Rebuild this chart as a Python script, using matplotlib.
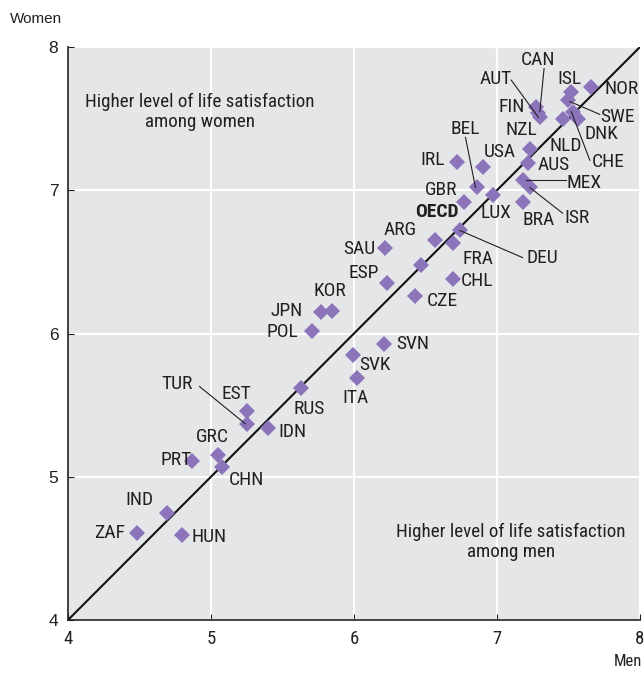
import matplotlib
matplotlib.use("Agg")
import matplotlib.pyplot as plt

plt.rcParams['font.family'] = ['Roboto Condensed', 'Liberation Sans', 'DejaVu Sans']

# Life satisfaction by sex (men on x, women on y)
countries = ['NOR', 'ISL', 'SWE', 'FIN', 'CAN', 'AUT', 'NLD', 'DNK', 'CHE', 'NZL',
             'AUS', 'MEX', 'ISR', 'BRA', 'USA', 'IRL', 'BEL', 'LUX', 'GBR', 'DEU',
             'OECD', 'FRA', 'ARG', 'SAU', 'CHL', 'CZE', 'ESP', 'KOR', 'JPN', 'POL',
             'SVN', 'SVK', 'ITA', 'RUS', 'EST', 'TUR', 'IDN', 'GRC', 'CHN', 'PRT',
             'IND', 'ZAF', 'HUN']
men = [7.66, 7.52, 7.50, 7.27, 7.29, 7.30, 7.46, 7.57, 7.53, 7.23,
       7.22, 7.18, 7.23, 7.18, 6.90, 6.72, 6.86, 6.97, 6.77, 6.74,
       6.57, 6.69, 6.47, 6.22, 6.69, 6.43, 6.23, 5.85, 5.77, 5.71,
       6.21, 5.99, 6.02, 5.63, 5.25, 5.25, 5.40, 5.05, 5.08, 4.87,
       4.69, 4.48, 4.80]
women = [7.72, 7.69, 7.63, 7.58, 7.54, 7.51, 7.50, 7.50, 7.55, 7.29,
         7.19, 7.07, 7.02, 6.92, 7.16, 7.20, 7.02, 6.97, 6.92, 6.72,
         6.65, 6.63, 6.48, 6.60, 6.38, 6.26, 6.35, 6.16, 6.15, 6.02,
         5.93, 5.85, 5.69, 5.62, 5.46, 5.37, 5.34, 5.15, 5.07, 5.11,
         4.75, 4.61, 4.59]

# label positions (text centres)
label_x = [7.87, 7.51, 7.84, 7.10, 7.29, 6.99, 7.48, 7.73, 7.78, 7.17,
           7.40, 7.61, 7.56, 7.29, 7.02, 6.55, 6.78, 6.99, 6.61, 7.32,
           6.58, 6.87, 6.32, 6.04, 6.86, 6.62, 6.07, 5.83, 5.53, 5.50,
           6.41, 6.15, 6.01, 5.69, 5.18, 4.76, 5.57, 5.01, 5.25, 4.755,
           4.50, 4.29, 4.99]
label_y = [7.71, 7.78, 7.51, 7.58, 7.91, 7.78, 7.31, 7.39, 7.20, 7.42,
           7.18, 7.05, 6.81, 6.79, 7.27, 7.21, 7.43, 6.84, 7.00, 6.53,
           6.85, 6.52, 6.72, 6.59, 6.37, 6.23, 6.42, 6.30, 6.16, 6.01,
           5.93, 5.78, 5.55, 5.47, 5.58, 5.65, 5.31, 5.28, 4.98, 5.12,
           4.84, 4.61, 4.58]

# leader lines: country -> ((x0, y0), (x1, y1))
leaders = {
    'AUT': ((7.10, 7.77), (7.29, 7.51)),
    'CAN': ((7.33, 7.85), (7.30, 7.55)),
    'BEL': ((6.78, 7.37), (6.85, 7.02)),
    'SWE': ((7.51, 7.62), (7.72, 7.53)),
    'CHE': ((7.52, 7.55), (7.65, 7.21)),
    'MEX': ((7.20, 7.07), (7.48, 7.07)),
    'ISR': ((7.23, 7.02), (7.46, 6.84)),
    'DEU': ((6.74, 6.72), (7.18, 6.53)),
    'TUR': ((4.92, 5.63), (5.24, 5.37)),
}

fig = plt.figure(figsize=(6.44, 6.73), dpi=100)
ax = fig.add_axes([0.1056, 0.0788, 0.888, 0.8512])
ax.set_facecolor('#e5e6e8')
ax.set_xlim(4, 8)
ax.set_ylim(4, 8)
ax.set_xticks([4, 5, 6, 7, 8])
ax.set_yticks([4, 5, 6, 7, 8])
ax.grid(True, color='white', linewidth=1.5)
ax.set_axisbelow(True)
for s in ['top', 'right']:
    ax.spines[s].set_visible(False)
for s in ['left', 'bottom']:
    ax.spines[s].set_color('#231f20')
    ax.spines[s].set_linewidth(1.2)
ax.tick_params(direction='in', length=4, color='#231f20', labelsize=13.5,
               labelcolor='#231f20', pad=7)
for t in ax.get_yticklabels():
    t.set_fontfamily(['Liberation Sans', 'DejaVu Sans'])
    t.set_fontsize(12.5)

ax.plot([4, 8], [4, 8], color='#111111', linewidth=1.5, zorder=2)

for c, (p0, p1) in leaders.items():
    ax.plot([p0[0], p1[0]], [p0[1], p1[1]], color='#231f20', linewidth=0.8, zorder=4)

ax.plot(men, women, linestyle='none', marker='D', markersize=8.5,
        color='#8c74bb', markeredgewidth=0, zorder=3)

for c, lx, ly in zip(countries, label_x, label_y):
    ax.text(lx, ly, c, fontsize=14, ha='center', va='center', color='#231f20',
            fontweight='bold' if c == 'OECD' else 'normal', zorder=5)

ax.text(4.92, 7.55, 'Higher level of life satisfaction\namong women', fontsize=13.7,
        ha='center', va='center', color='#231f20', linespacing=1.15)
ax.text(7.10, 4.545, 'Higher level of life satisfaction\namong men', fontsize=13.7,
        ha='center', va='center', color='#231f20', linespacing=1.15)

fig.text(0.015, 0.972, 'Women', fontsize=11, color='#231f20', va='center', ha='left',
         family=['Liberation Sans', 'DejaVu Sans'])
fig.text(0.997, 0.017, 'Men', fontsize=12, color='#231f20', va='center', ha='right')

fig.savefig('out.png', dpi=100)
